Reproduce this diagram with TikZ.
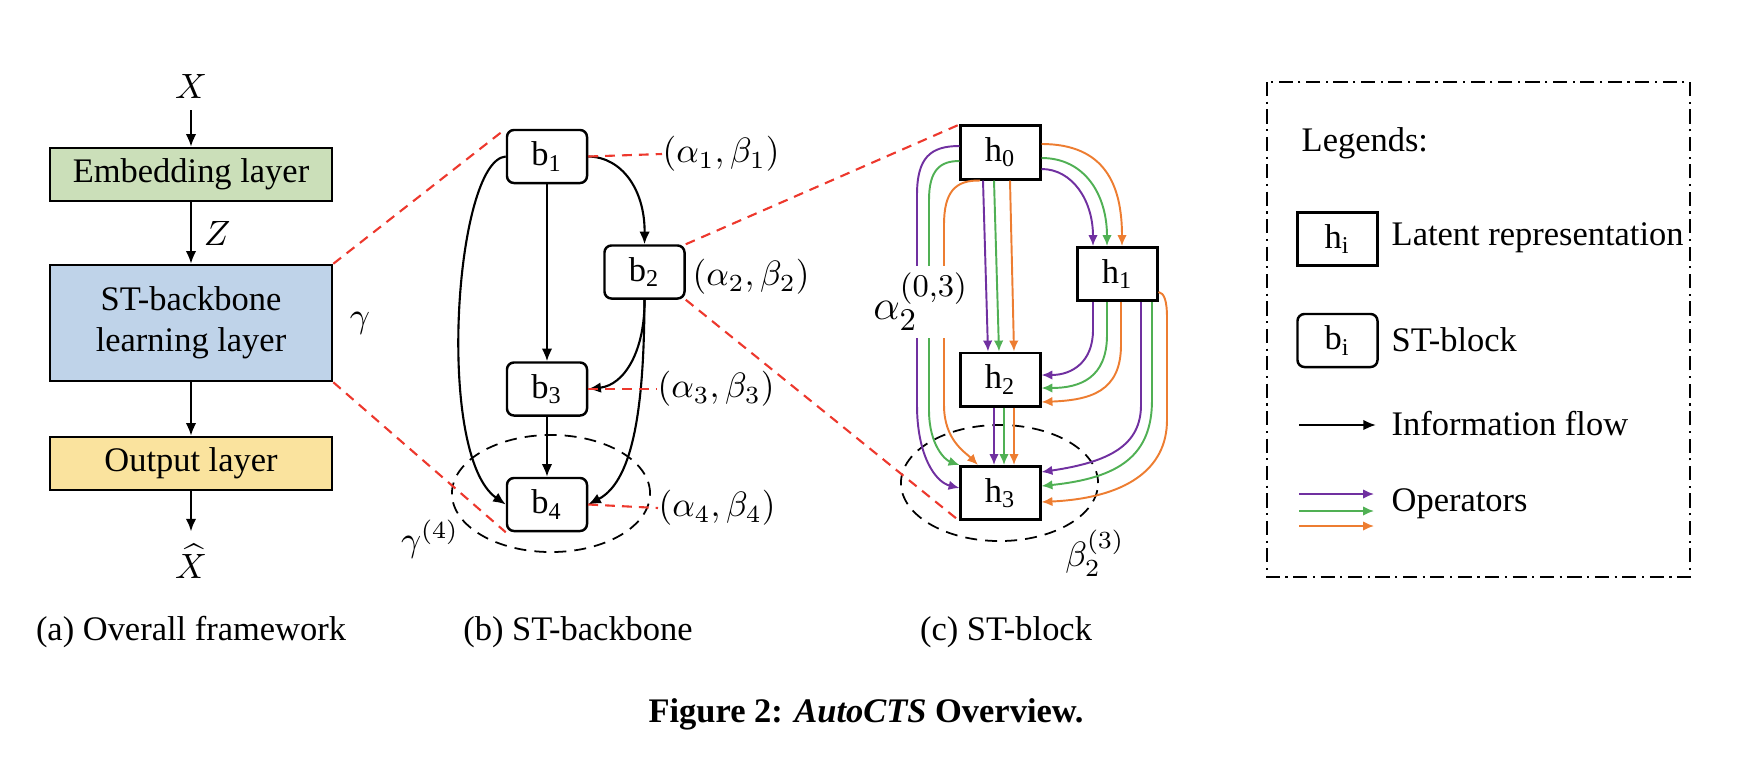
\documentclass[tikz,border=0pt]{standalone}
\usepackage{fontspec}
\setmainfont{Liberation Serif}
\usetikzlibrary{arrows.meta,calc,positioning,shapes.geometric}

\definecolor{embfill}{RGB}{203,223,185}
\definecolor{stfill}{RGB}{191,211,233}
\definecolor{outfill}{RGB}{250,227,158}
\definecolor{zoomred}{RGB}{237,56,45}
\definecolor{oppurple}{RGB}{112,48,160}
\definecolor{opgreen}{RGB}{80,176,84}
\definecolor{oporange}{RGB}{237,125,49}

\tikzset{
  layerbox/.style={draw, line width=0.7pt, minimum width=2.82cm, minimum height=0.53cm, align=center, inner sep=0pt},
  stblock/.style={draw, rounded corners=0.07cm, line width=0.7pt, minimum width=0.8cm, minimum height=0.53cm, inner sep=0pt},
  latent/.style={draw, line width=0.85pt, minimum width=0.79cm, minimum height=0.53cm, inner sep=0pt},
  flow/.style={-{Latex[length=3.6pt,width=3pt]}, line width=0.6pt},
  opline/.style={-{Latex[length=3.1pt,width=2.7pt]}, line width=0.55pt},
  zoomline/.style={zoomred, dash pattern=on 2.8pt off 2pt, line width=0.6pt},
  scopeell/.style={draw, ellipse, dash pattern=on 3.4pt off 2.3pt, line width=0.5pt, inner sep=0pt},
  lgtext/.style={anchor=west, inner sep=0pt},
  legendframe/.style={line width=0.6pt, dash pattern=on 4pt off 1.6pt on 0.6pt off 1.6pt}
}

\begin{document}
\begin{tikzpicture}[x=0.01cm,y=-0.01cm,every node/.style={font=\fontsize{9.8}{11.8}\selectfont}]
  \useasboundingbox (0,0) rectangle (1763,766);

  % (a) overall framework
  \node (xin) at (191,86) {$X$};
  \node[layerbox, fill=embfill] (emb) at (191,174.5) {Embedding layer};
  \node[layerbox, fill=stfill, minimum height=1.16cm] (stbb) at (191,323) {ST-backbone\\learning layer};
  \node[layerbox, fill=outfill] (outl) at (191,463.5) {Output layer};
  \node (xout) at (191,561) {$\widehat{X}$};
  \node (gam) at (360,323) {$\gamma$};
  \draw[flow] (xin) -- (emb);
  \draw[flow] (emb) -- node[right] {$Z$} (stbb);
  \draw[flow] (stbb) -- (outl);
  \draw[flow] (outl) -- (xout);

  % (b) ST-backbone
  \node[scopeell, minimum width=1.98cm, minimum height=1.17cm] (ell4) at (551,493.5) {};
  \node[stblock] (b1) at (547,156.5) {b\textsubscript{1}};
  \node[stblock] (b2) at (644.5,272) {b\textsubscript{2}};
  \node[stblock] (b3) at (547,389) {b\textsubscript{3}};
  \node[stblock] (b4) at (547,504.5) {b\textsubscript{4}};
  \node[lgtext] (ab1) at (662,154) {$(\alpha_1,\beta_1)$};
  \node[lgtext] (ab2) at (692,277) {$(\alpha_2,\beta_2)$};
  \node[lgtext] (ab3) at (657,389) {$(\alpha_3,\beta_3)$};
  \node[lgtext] (ab4) at (658,508) {$(\alpha_4,\beta_4)$};
  \node (g4) at (430,539) {$\gamma^{(4)}$};
  \draw[flow] (b1) -- (b3);
  \draw[flow] (b3) -- (b4);
  \draw[flow] (b1.east) .. controls (622,157) and (645,190) .. (b2.north);
  \draw[flow] (b1.west) .. controls (455,160) and (435,455) .. (b4.west);
  \draw[flow] (b2.south) .. controls (645,350) and (625,385) .. (b3.east);
  \draw[flow] (b2.south) .. controls (644,400) and (635,480) .. (b4.east);

  % (c) ST-block
  \node[scopeell, minimum width=1.97cm, minimum height=1.16cm] (ell3) at (999.5,483) {};
  \node[latent] (h0) at (1000.5,152.5) {h\textsubscript{0}};
  \node[latent] (h1) at (1117.5,274) {h\textsubscript{1}};
  \node[latent] (h2) at (1000.5,379.5) {h\textsubscript{2}};
  \node[latent] (h3) at (1000.5,493) {h\textsubscript{3}};
  \node (be3) at (1095,553) {$\beta_2^{(3)}$};

  % h0 -> h1
  \draw[opline, oporange] ($(h0.east)+(0,-8.5)$) .. controls (1105,144) and (1122,185) .. ($(h1.north)+(4.5,0)$);
  \draw[opline, opgreen] ($(h0.east)+(0,5.5)$) .. controls (1085,158) and (1107,195) .. ($(h1.north)+(-10.5,0)$);
  \draw[opline, oppurple] ($(h0.east)+(0,16.5)$) .. controls (1072,169) and (1093,200) .. ($(h1.north)+(-24.5,0)$);
  % h0 -> h2
  \draw[opline, oppurple] ($(h0.south)+(-17.5,0)$) -- ($(h2.north)+(-12.5,0)$);
  \draw[opline, opgreen] ($(h0.south)+(-6.5,0)$) -- ($(h2.north)+(-1.5,0)$);
  \draw[opline, oporange] ($(h0.south)+(9.5,0)$) -- ($(h2.north)+(13.5,0)$);
  % h0 -> h3
  \draw[opline, oppurple] ($(h0.west)+(0,-6.5)$) .. controls (930,146) and (917,158) .. (917,195)
    -- (917,405) .. controls (917,455) and (935,482) .. ($(h3.west)+(0,-5)$);
  \draw[opline, opgreen] ($(h0.west)+(0,8.5)$) .. controls (940,161) and (929,170) .. (929,200)
    -- (929,410) .. controls (929,445) and (945,460) .. (h3.north west);
  \draw[opline, oporange] ($(h0.south)+(-20.5,0)$) .. controls (955,180) and (944,192) .. (944,225)
    -- (944,405) .. controls (944,440) and (965,452) .. ($(h3.north)+(-22.5,0)$);
  \node[fill=white, inner sep=2pt, font=\fontsize{12.5}{15}\selectfont] (a03) at (921,302) {$\alpha_2^{(0,3)}$};
  % h1 -> h2
  \draw[opline, oppurple] ($(h1.south)+(-24.5,0)$) -- (1093,330) .. controls (1093,362) and (1072,375) .. ($(h2.east)+(0,-4.5)$);
  \draw[opline, opgreen] ($(h1.south)+(-10.5,0)$) -- (1107,335) .. controls (1107,378) and (1080,388) .. ($(h2.east)+(0,8.5)$);
  \draw[opline, oporange] ($(h1.south)+(3.5,0)$) -- (1121,345) .. controls (1121,392) and (1090,400) .. ($(h2.east)+(0,22.5)$);
  % h1 -> h3
  \draw[opline, oppurple] ($(h1.south)+(23.5,0)$) -- (1141,405) .. controls (1141,445) and (1110,462) .. ($(h3.east)+(0,-21)$);
  \draw[opline, opgreen] ($(h1.south)+(34.5,0)$) -- (1152,400) .. controls (1152,455) and (1120,478) .. ($(h3.east)+(0,-7)$);
  \draw[opline, oporange] ($(h1.east)+(0,18)$) .. controls (1164,293) and (1167,300) .. (1167,318)
    -- (1167,420) .. controls (1167,470) and (1125,498) .. ($(h3.east)+(0,9)$);
  % h2 -> h3
  \draw[opline, oppurple] ($(h2.south)+(-6.5,0)$) -- ($(h3.north)+(-6.5,0)$);
  \draw[opline, opgreen] ($(h2.south)+(3.5,0)$) -- ($(h3.north)+(3.5,0)$);
  \draw[opline, oporange] ($(h2.south)+(13.5,0)$) -- ($(h3.north)+(13.5,0)$);

  % zoom lines
  \draw[zoomline] (stbb.north east) -- (b1.north west);
  \draw[zoomline] (stbb.south east) -- (b4.south west);
  \draw[zoomline] (b2.north east) -- (h0.north west);
  \draw[zoomline] (b2.south east) -- (h3.south west);
  \draw[zoomline] (b1.east) -- (ab1.west);
  \draw[zoomline] (b3.east) -- (ab3.west);
  \draw[zoomline] (b4.east) -- (ab4.west);

  % legend
  \draw[legendframe] (1267,82) rectangle (1690,577);
  \node[lgtext] (legtitle) at (1301,143) {Legends:};
  \node[latent] (hi) at (1337.5,239) {h\textsubscript{i}};
  \node[lgtext] (hitext) at (1391,238) {Latent representation};
  \node[stblock] (bi) at (1337.5,340.5) {b\textsubscript{i}};
  \node[lgtext] (bitext) at (1391,340) {ST-block};
  \coordinate (flowA) at (1299,425);
  \coordinate (flowB) at (1376,425);
  \draw[flow] (flowA) -- (flowB);
  \node[lgtext] (flowtext) at (1391,424) {Information flow};
  \coordinate (opA) at (1299,494);
  \coordinate (opB) at (1374,494);
  \coordinate (opC) at (1299,511);
  \coordinate (opD) at (1374,511);
  \coordinate (opE) at (1299,526);
  \coordinate (opF) at (1374,526);
  \draw[opline, oppurple] (opA) -- (opB);
  \draw[opline, opgreen] (opC) -- (opD);
  \draw[opline, oporange] (opE) -- (opF);
  \node[lgtext] (optext) at (1391,504) {Operators};

  % captions
  \node (capa) at (191,632) {(a) Overall framework};
  \node (capb) at (578,632) {(b) ST-backbone};
  \node (capc) at (1006,632) {(c) ST-block};
  \node (figcap) at (866,714) {\textbf{Figure 2: \textit{AutoCTS} Overview.}};
\end{tikzpicture}
\end{document}
